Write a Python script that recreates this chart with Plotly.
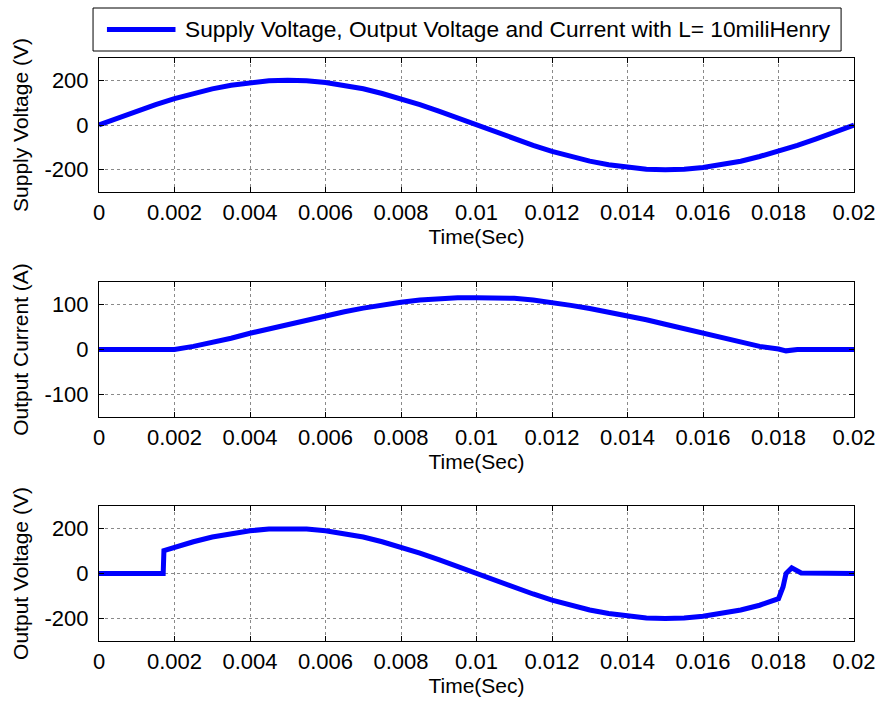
import plotly.graph_objects as go
from plotly.subplots import make_subplots

# ---------------- data ----------------
supply_t = [i * 0.0005 for i in range(41)]
supply_v = [0, 31, 62, 91, 118, 141, 162, 178, 190, 198, 200, 198, 190, 178, 162, 141,
            118, 91, 62, 31, 0, -31, -62, -91, -118, -141, -162, -178, -190, -198, -200,
            -198, -190, -178, -162, -141, -118, -91, -62, -31, 0]

current_t = [0, 0.002, 0.0025, 0.003, 0.0035, 0.004, 0.0045, 0.005, 0.0055, 0.006, 0.0065,
             0.007, 0.0075, 0.008, 0.0085, 0.009, 0.0095, 0.01, 0.0105, 0.011, 0.0115,
             0.012, 0.0125, 0.013, 0.0135, 0.014, 0.0145, 0.015, 0.0155, 0.016, 0.0165,
             0.017, 0.0175, 0.018, 0.0182, 0.0185, 0.02]
current_i = [0, 0, 7, 15, 25, 36, 46, 56, 66, 75, 84, 92, 99, 105, 110, 113, 115, 115, 115,
             114, 110, 105, 98, 91, 83, 75, 66, 56, 46, 35, 25, 15, 7, 1, -3, 0, 0]

output_t = [0, 0.0017, 0.00172, 0.002, 0.0025, 0.003, 0.0035, 0.004, 0.0045, 0.005, 0.0055,
            0.006, 0.0065, 0.007, 0.0075, 0.008, 0.0085, 0.009, 0.0095, 0.01, 0.0105, 0.011,
            0.0115, 0.012, 0.0125, 0.013, 0.0135, 0.014, 0.0145, 0.015, 0.0155, 0.016,
            0.0165, 0.017, 0.0175, 0.018, 0.01812, 0.0182, 0.01835, 0.0186, 0.02]
output_v = [0, 0, 102, 118, 141, 162, 178, 190, 198, 200, 198, 190, 178, 162, 141, 118, 91,
            62, 31, 0, -31, -62, -91, -118, -141, -162, -178, -190, -198, -200, -198, -190,
            -178, -162, -141, -112, -60, 0, 25, 2, 0]

x_ticks = [0, 0.002, 0.004, 0.006, 0.008, 0.01, 0.012, 0.014, 0.016, 0.018, 0.02]
x_ticklabels = ["0", "0.002", "0.004", "0.006", "0.008", "0.01", "0.012", "0.014", "0.016", "0.018", "0.02"]
v_ticks = [-200, 0, 200]
v_ticklabels = ["-200", "0", "200"]
i_ticks = [-100, 0, 100]
i_ticklabels = ["-100", "0", "100"]

legend_text = "Supply Voltage, Output Voltage and Current with L= 10miliHenry"
x_title = "Time(Sec)"
y_titles = ["Supply Voltage (V)", "Output Current (A)", "Output Voltage (V)"]

# ---------------- figure ----------------
W, H = 887, 709
ml, mr, mt, mb = 99, 28, 58, 68
pw = W - ml - mr
ph = H - mt - mb

def dom(top, bot):
    return [(H - mb - bot) / ph, (H - mb - top) / ph]

def px_x(px):
    return (px - ml) / pw

def px_y(py):
    return (H - mb - py) / ph

fig = make_subplots(rows=3, cols=1)
blue = "#0000FF"
lw = 5
fig.add_trace(go.Scatter(x=supply_t, y=supply_v, mode="lines", name=legend_text,
                         line=dict(color=blue, width=lw), showlegend=False), row=1, col=1)
fig.add_trace(go.Scatter(x=current_t, y=current_i, mode="lines",
                         line=dict(color=blue, width=lw), showlegend=False), row=2, col=1)
fig.add_trace(go.Scatter(x=output_t, y=output_v, mode="lines",
                         line=dict(color=blue, width=lw), showlegend=False), row=3, col=1)

family = "Liberation Sans, Arial, sans-serif"
font = dict(family=family, size=21, color="black")
tickfont = dict(family=family, size=22, color="black")
axis_common = dict(showline=True, linecolor="black", linewidth=1, mirror="ticks",
                   ticks="inside", ticklen=5, tickcolor="black", showgrid=True,
                   gridcolor="#8a8a8a", griddash="dot", gridwidth=1, zeroline=False,
                   tickfont=tickfont)

domains = [dom(58, 192), dom(282, 417), dom(506, 641)]
yranges = [[-300, 300], [-150, 150], [-300, 300]]
yticks = [(v_ticks, v_ticklabels), (i_ticks, i_ticklabels), (v_ticks, v_ticklabels)]
for k in range(3):
    xa = "xaxis" if k == 0 else f"xaxis{k+1}"
    ya = "yaxis" if k == 0 else f"yaxis{k+1}"
    fig.layout[xa].update(domain=[0, 1], range=[0, 0.02], tickvals=x_ticks,
                          ticktext=x_ticklabels, ticklabelstandoff=1,
                          title=dict(text=x_title, font=font, standoff=4), **axis_common)
    fig.layout[ya].update(domain=domains[k], range=yranges[k], tickvals=yticks[k][0],
                          ticktext=yticks[k][1], ticklabelstandoff=5,
                          title=dict(text=y_titles[k], font=font, standoff=10), **axis_common)

# legend box drawn in MATLAB style
leg_top, leg_bot, leg_left, leg_right = 8, 51, 93, 846
leg_mid = (leg_top + leg_bot) / 2
fig.add_shape(type="rect", xref="paper", yref="paper",
              x0=px_x(leg_left), x1=px_x(leg_right), y0=px_y(leg_bot), y1=px_y(leg_top),
              line=dict(color="black", width=1), fillcolor="white", layer="above")
fig.add_shape(type="line", xref="paper", yref="paper",
              x0=px_x(107), x1=px_x(176), y0=px_y(leg_mid), y1=px_y(leg_mid),
              line=dict(color=blue, width=lw), layer="above")
fig.add_annotation(xref="paper", yref="paper", x=px_x(184), y=px_y(leg_mid),
                   xanchor="left", yanchor="middle", showarrow=False, text=legend_text,
                   font=dict(family=family, size=22.7, color="black"))

fig.update_layout(
    width=W, height=H, autosize=False,
    margin=dict(l=ml, r=mr, t=mt, b=mb),
    paper_bgcolor="white", plot_bgcolor="white",
    font=font,
    showlegend=False,
)

fig.write_html("out.html")
